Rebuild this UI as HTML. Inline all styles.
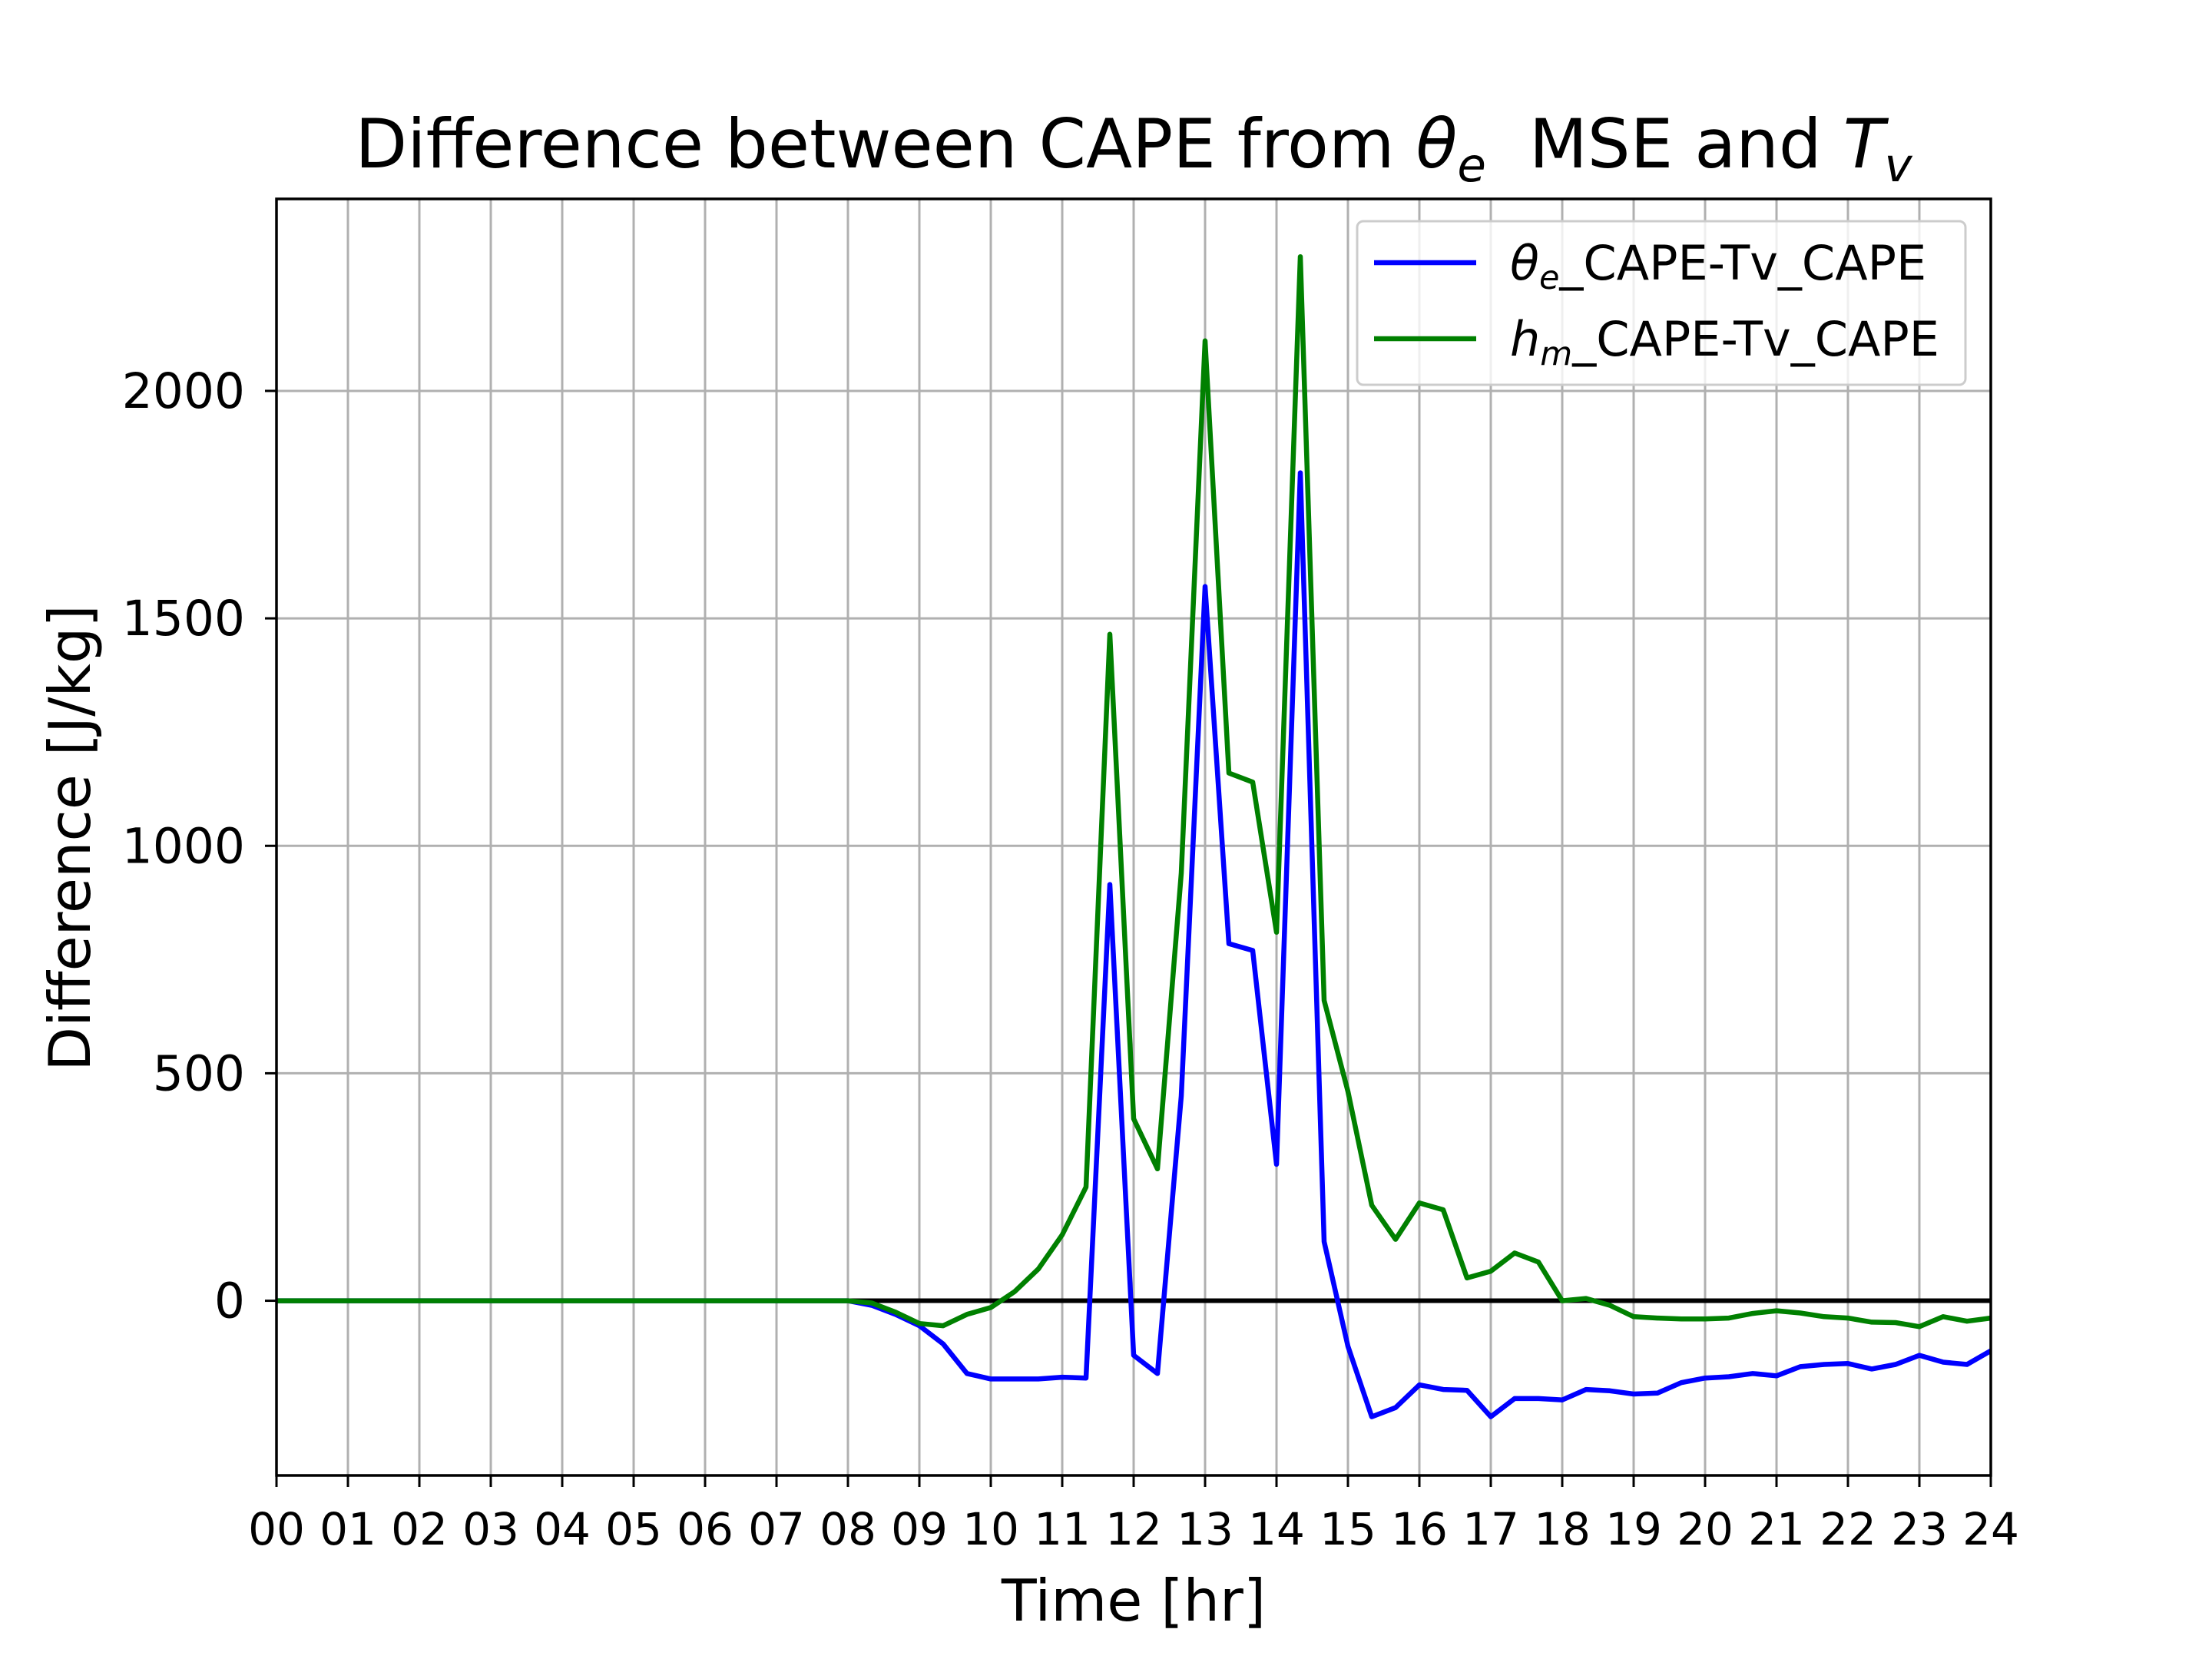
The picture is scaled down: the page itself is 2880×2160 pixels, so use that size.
<!DOCTYPE html>
<html><head><meta charset="utf-8"><style>
html,body{margin:0;padding:0;background:#fff;}
svg{display:block;font-family:"DejaVu Sans","Liberation Sans",sans-serif;}
</style></head><body>
<svg id="chart" width="2880" height="2160" viewBox="0 0 2880 2160">
<rect width="2880" height="2160" fill="#fff"/>
<g id="grid"></g>
<g id="lines"></g>
<g id="xticks"></g>
<g id="yticks"></g>
<rect x="360" y="259" width="2232" height="1662" fill="none" stroke="#000" stroke-width="3.5"/>
<text x="1476" y="218" font-size="88" text-anchor="middle">Difference between CAPE from <tspan font-style="italic">θ</tspan><tspan font-style="italic" font-size="61" dy="18">e</tspan><tspan dy="-18" xml:space="preserve">  MSE and </tspan><tspan font-style="italic">T</tspan><tspan font-style="italic" font-size="61" dy="18">v</tspan></text>
<text x="1476" y="2110" font-size="75" text-anchor="middle">Time [hr]</text>
<text x="0" y="0" font-size="75" text-anchor="middle" transform="translate(117,1091) rotate(-90)">Difference [J/kg]</text>
<g>
<rect x="1767" y="288" width="792" height="213" rx="8" fill="#fff" fill-opacity="0.8" stroke="#ccc" stroke-width="3"/>
<line x1="1789" y1="342" x2="1922" y2="342" stroke="#0000ff" stroke-width="6.5"/>
<text x="1966" y="364" font-size="62"><tspan font-style="italic">θ</tspan><tspan font-style="italic" font-size="43" dy="12">e</tspan><tspan dy="-12">_CAPE-Tv_CAPE</tspan></text>
<line x1="1789" y1="441" x2="1922" y2="441" stroke="#008000" stroke-width="6.5"/>
<text x="1966" y="463" font-size="62"><tspan font-style="italic">h</tspan><tspan font-style="italic" font-size="43" dy="12">m</tspan><tspan dy="-12">_CAPE-Tv_CAPE</tspan></text>
</g>
</svg>
<script>
const xTicks=[0,1,2,3,4,5,6,7,8,9,10,11,12,13,14,15,16,17,18,19,20,21,22,23,24];
const yTicks=[0,500,1000,1500,2000];
const zerosBefore=24;
const thetaTail=[0,-10,-30,-55,-95,-160,-172,-172,-172,-168,-170,915,-120,-160,450,1570,785,770,300,1820,130,-100,-255,-235,-185,-195,-197,-255,-215,-215,-218,-195,-198,-205,-203,-180,-170,-167,-160,-165,-145,-140,-138,-150,-140,-120,-135,-140,-110];
const hmTail=[0,-5,-25,-50,-55,-30,-15,20,70,145,250,1465,400,290,940,2110,1160,1140,810,2295,660,460,210,135,215,200,50,65,105,85,0,5,-10,-35,-38,-40,-40,-38,-28,-22,-27,-35,-38,-47,-48,-57,-35,-45,-38];
const thetaVals=new Array(zerosBefore).fill(0).concat(thetaTail);
const hmVals=new Array(zerosBefore).fill(0).concat(hmTail);
const L=360,R=2592,T=259,B=1921,Y0=-384,Y1=2422;
const xs=h=>L+(R-L)*h/24;
const ys=v=>B-(B-T)*(v-Y0)/(Y1-Y0);
const NS="http://www.w3.org/2000/svg";
function mk(tag,attrs,parent){const e=document.createElementNS(NS,tag);for(const k in attrs)e.setAttribute(k,attrs[k]);parent.appendChild(e);return e;}
const grid=document.getElementById('grid'),xt=document.getElementById('xticks'),yt=document.getElementById('yticks'),lines=document.getElementById('lines');
xTicks.forEach(h=>{
 const g=mk('line',{x1:xs(h),x2:xs(h),y1:T,y2:B,stroke:'#b0b0b0','stroke-width':3},grid);
 
 
 const t=mk('line',{x1:xs(h),x2:xs(h),y1:B,y2:B+15,stroke:'#000','stroke-width':3},xt);
 
 
 const l=mk('text',{x:xs(h),y:2011,'font-size':58,'text-anchor':'middle'},xt);
 l.textContent=String(h).padStart(2,'0');
 
 
});
yTicks.forEach(v=>{
 const g=mk('line',{x1:L,x2:R,y1:ys(v),y2:ys(v),stroke:'#b0b0b0','stroke-width':3},grid);
 
 
 const t=mk('line',{x1:L-15,x2:L,y1:ys(v),y2:ys(v),stroke:'#000','stroke-width':3},yt);
 
 
 const l=mk('text',{x:L-41,y:ys(v)+22,'font-size':63,'text-anchor':'end'},yt);
 l.textContent=String(v);
 
 
});
const zl=mk('line',{x1:L,x2:R,y1:ys(0),y2:ys(0),stroke:'#000','stroke-width':6},lines);


function series(vals,color,name){
 const pts=vals.map((v,i)=>xs(i/3).toFixed(1)+','+ys(v).toFixed(1)).join(' ');
 const p=mk('polyline',{points:pts,fill:'none',stroke:color,'stroke-width':6.5,'stroke-linejoin':'round'},lines);
 
 
}
series(thetaVals,'#0000ff','theta-e-series');
series(hmVals,'#008000','hm-series');
</script>
</body></html>
